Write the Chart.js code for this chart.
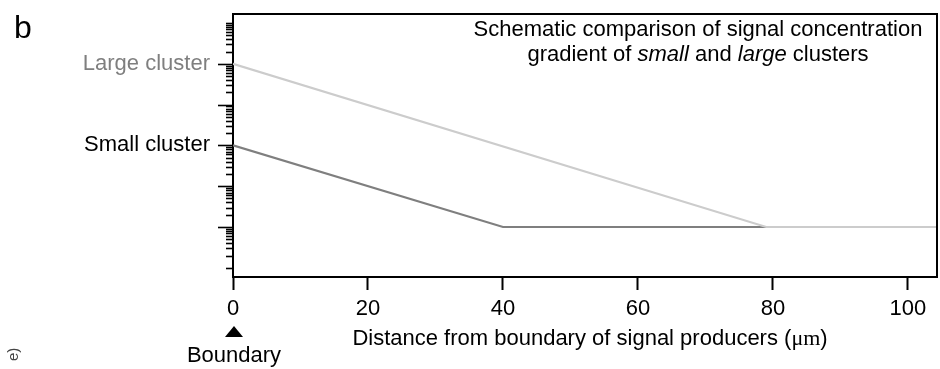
<!DOCTYPE html>
<html>
<head>
<meta charset="utf-8">
<script src="https://cdn.jsdelivr.net/npm/chart.js@4.4.1/dist/chart.umd.min.js"></script>
<style>
  html, body { margin: 0; padding: 0; background: #fff; }
  #wrap { width: 940px; height: 369px; }
</style>
</head>
<body>
<div id="wrap"><canvas id="c" width="940" height="369"></canvas></div>
<script>
// ---- data ----
const smallX = [0, 40, 104.3];
const smallY = [100, 1, 1];
const largeX = [0, 79, 104.3];
const largeY = [10000, 1, 1];

const xTickValues = [0, 20, 40, 60, 80, 100];
const yDecades = [0.1, 1, 10, 100, 1000, 10000, 100000];
const yLongTicks = [1, 10, 100, 1000, 10000];
const yLabelValues = [100, 10000];
const yLabelTexts = ['Small cluster', 'Large cluster'];
const yLabelColors = ['#000000', '#7f7f7f'];

const xMin = 0, xMax = 104.3;
const yMin = 0.0596, yMax = 166000;

const titleLine1 = 'Schematic comparison of signal concentration';
const xTitleMain = 'Distance from boundary of signal producers (';
const xTitleUnit = 'μm';
const panelLetter = 'b';
const boundaryText = 'Boundary';

// minor tick values per decade (1..9 x decade) within the axis range
const yAllTicks = [];
yDecades.forEach(d => { for (let k = 1; k <= 9; k++) { const v = +(d * k).toPrecision(3); if (v >= yMin && v <= yMax) yAllTicks.push(v); } });

const SANS = '"Liberation Sans", Arial, sans-serif';
const FS = 22;

const framePlugin = {
  id: 'frame',
  afterDraw(chart) {
    const ctx = chart.ctx;
    const a = chart.chartArea;
    const ys = chart.scales.y;
    ctx.save();
    // frame top & right
    ctx.strokeStyle = '#000';
    ctx.lineWidth = 2;
    ctx.beginPath();
    ctx.moveTo(a.left, a.top);
    ctx.lineTo(a.right, a.top);
    ctx.lineTo(a.right, a.bottom);
    ctx.stroke();
    // y ticks (log minor + long)
    ctx.lineWidth = 1.6;
    yAllTicks.forEach(v => {
      const py = Math.round(ys.getPixelForValue(v)) + 0.5;
      const len = yLongTicks.includes(v) ? 15 : 7;
      ctx.beginPath();
      ctx.moveTo(a.left, py);
      ctx.lineTo(a.left - len, py);
      ctx.stroke();
    });
    // panel letter
    ctx.fillStyle = '#000';
    ctx.font = '32px ' + SANS;
    ctx.textAlign = 'left';
    ctx.textBaseline = 'alphabetic';
    ctx.fillText(panelLetter, 14, 38);
    // in-plot title
    ctx.font = FS + 'px ' + SANS;
    ctx.textAlign = 'center';
    const cx = 698;
    ctx.fillText(titleLine1, cx, 36);
    // second line with italic words
    const parts = [['gradient of ', false], ['small', true], [' and ', false], ['large', true], [' clusters', false]];
    let total = 0;
    parts.forEach(p => { ctx.font = (p[1] ? 'italic ' : '') + FS + 'px ' + SANS; total += ctx.measureText(p[0]).width; });
    let x = cx - total / 2;
    ctx.textAlign = 'left';
    parts.forEach(p => { ctx.font = (p[1] ? 'italic ' : '') + FS + 'px ' + SANS; ctx.fillText(p[0], x, 61); x += ctx.measureText(p[0]).width; });
    // x axis title with serif unit
    const xParts = [[xTitleMain, SANS], [xTitleUnit, '"Liberation Serif", serif'], [')', SANS]];
    total = 0;
    xParts.forEach(p => { ctx.font = FS + 'px ' + p[1]; total += ctx.measureText(p[0]).width; });
    x = 590 - total / 2;
    xParts.forEach(p => { ctx.font = FS + 'px ' + p[1]; ctx.fillText(p[0], x, 345); x += ctx.measureText(p[0]).width; });
    // boundary marker
    const bx = chart.scales.x.getPixelForValue(0) + 1;
    ctx.beginPath();
    ctx.moveTo(bx, 326);
    ctx.lineTo(bx + 9, 337);
    ctx.lineTo(bx - 9, 337);
    ctx.closePath();
    ctx.fill();
    ctx.font = FS + 'px ' + SANS;
    ctx.textAlign = 'center';
    ctx.fillText(boundaryText, bx, 362);
    // cut-off rotated fragment at bottom-left
    ctx.save();
    ctx.translate(18, 361);
    ctx.rotate(-Math.PI / 2);
    ctx.font = '15px ' + SANS;
    ctx.textAlign = 'left';
    ctx.fillStyle = '#444';
    ctx.fillText('e)', 0, 0);
    ctx.restore();
    ctx.restore();
  }
};

new Chart(document.getElementById('c'), {
  type: 'line',
  data: {
    datasets: [
      {
        label: 'Large cluster',
        data: largeX.map((x, i) => ({ x: x, y: largeY[i] })),
        borderColor: '#cccccc',
        borderWidth: 2.2,
        pointRadius: 0,
        tension: 0
      },
      {
        label: 'Small cluster',
        data: smallX.map((x, i) => ({ x: x, y: smallY[i] })),
        borderColor: '#7f7f7f',
        borderWidth: 2.2,
        pointRadius: 0,
        tension: 0
      }
    ]
  },
  options: {
    responsive: false,
    animation: false,
    devicePixelRatio: 1,
    layout: { padding: { left: 0, right: 3, top: 14, bottom: 0 } },
    plugins: { legend: { display: false }, tooltip: { enabled: false }, title: { display: false } },
    scales: {
      x: {
        type: 'linear',
        min: xMin, max: xMax,
        afterBuildTicks: s => { s.ticks = xTickValues.map(v => ({ value: v })); },
        afterFit: s => { s.height = 92; s.paddingLeft = 0; s.paddingRight = 0; },
        border: { display: true, color: '#000', width: 2 },
        grid: { drawOnChartArea: false, drawTicks: true, tickLength: 13, tickColor: '#000', tickWidth: 2 },
        ticks: { color: '#000', font: { family: SANS, size: FS }, padding: 6, maxRotation: 0 }
      },
      y: {
        type: 'logarithmic',
        min: yMin, max: yMax,
        afterBuildTicks: s => { s.ticks = yLabelValues.map(v => ({ value: v })); },
        afterFit: s => { s.width = 233; s.paddingTop = 0; s.paddingBottom = 0; },
        border: { display: true, color: '#000', width: 2 },
        grid: { drawOnChartArea: false, drawTicks: false },
        ticks: {
          font: { family: SANS, size: FS },
          padding: 23,
          color: c => yLabelColors[yLabelValues.indexOf(c.tick.value)] || '#000',
          callback: v => { const i = yLabelValues.indexOf(v); return i >= 0 ? yLabelTexts[i] : ''; }
        }
      }
    }
  },
  plugins: [framePlugin]
});
</script>
</body>
</html>
